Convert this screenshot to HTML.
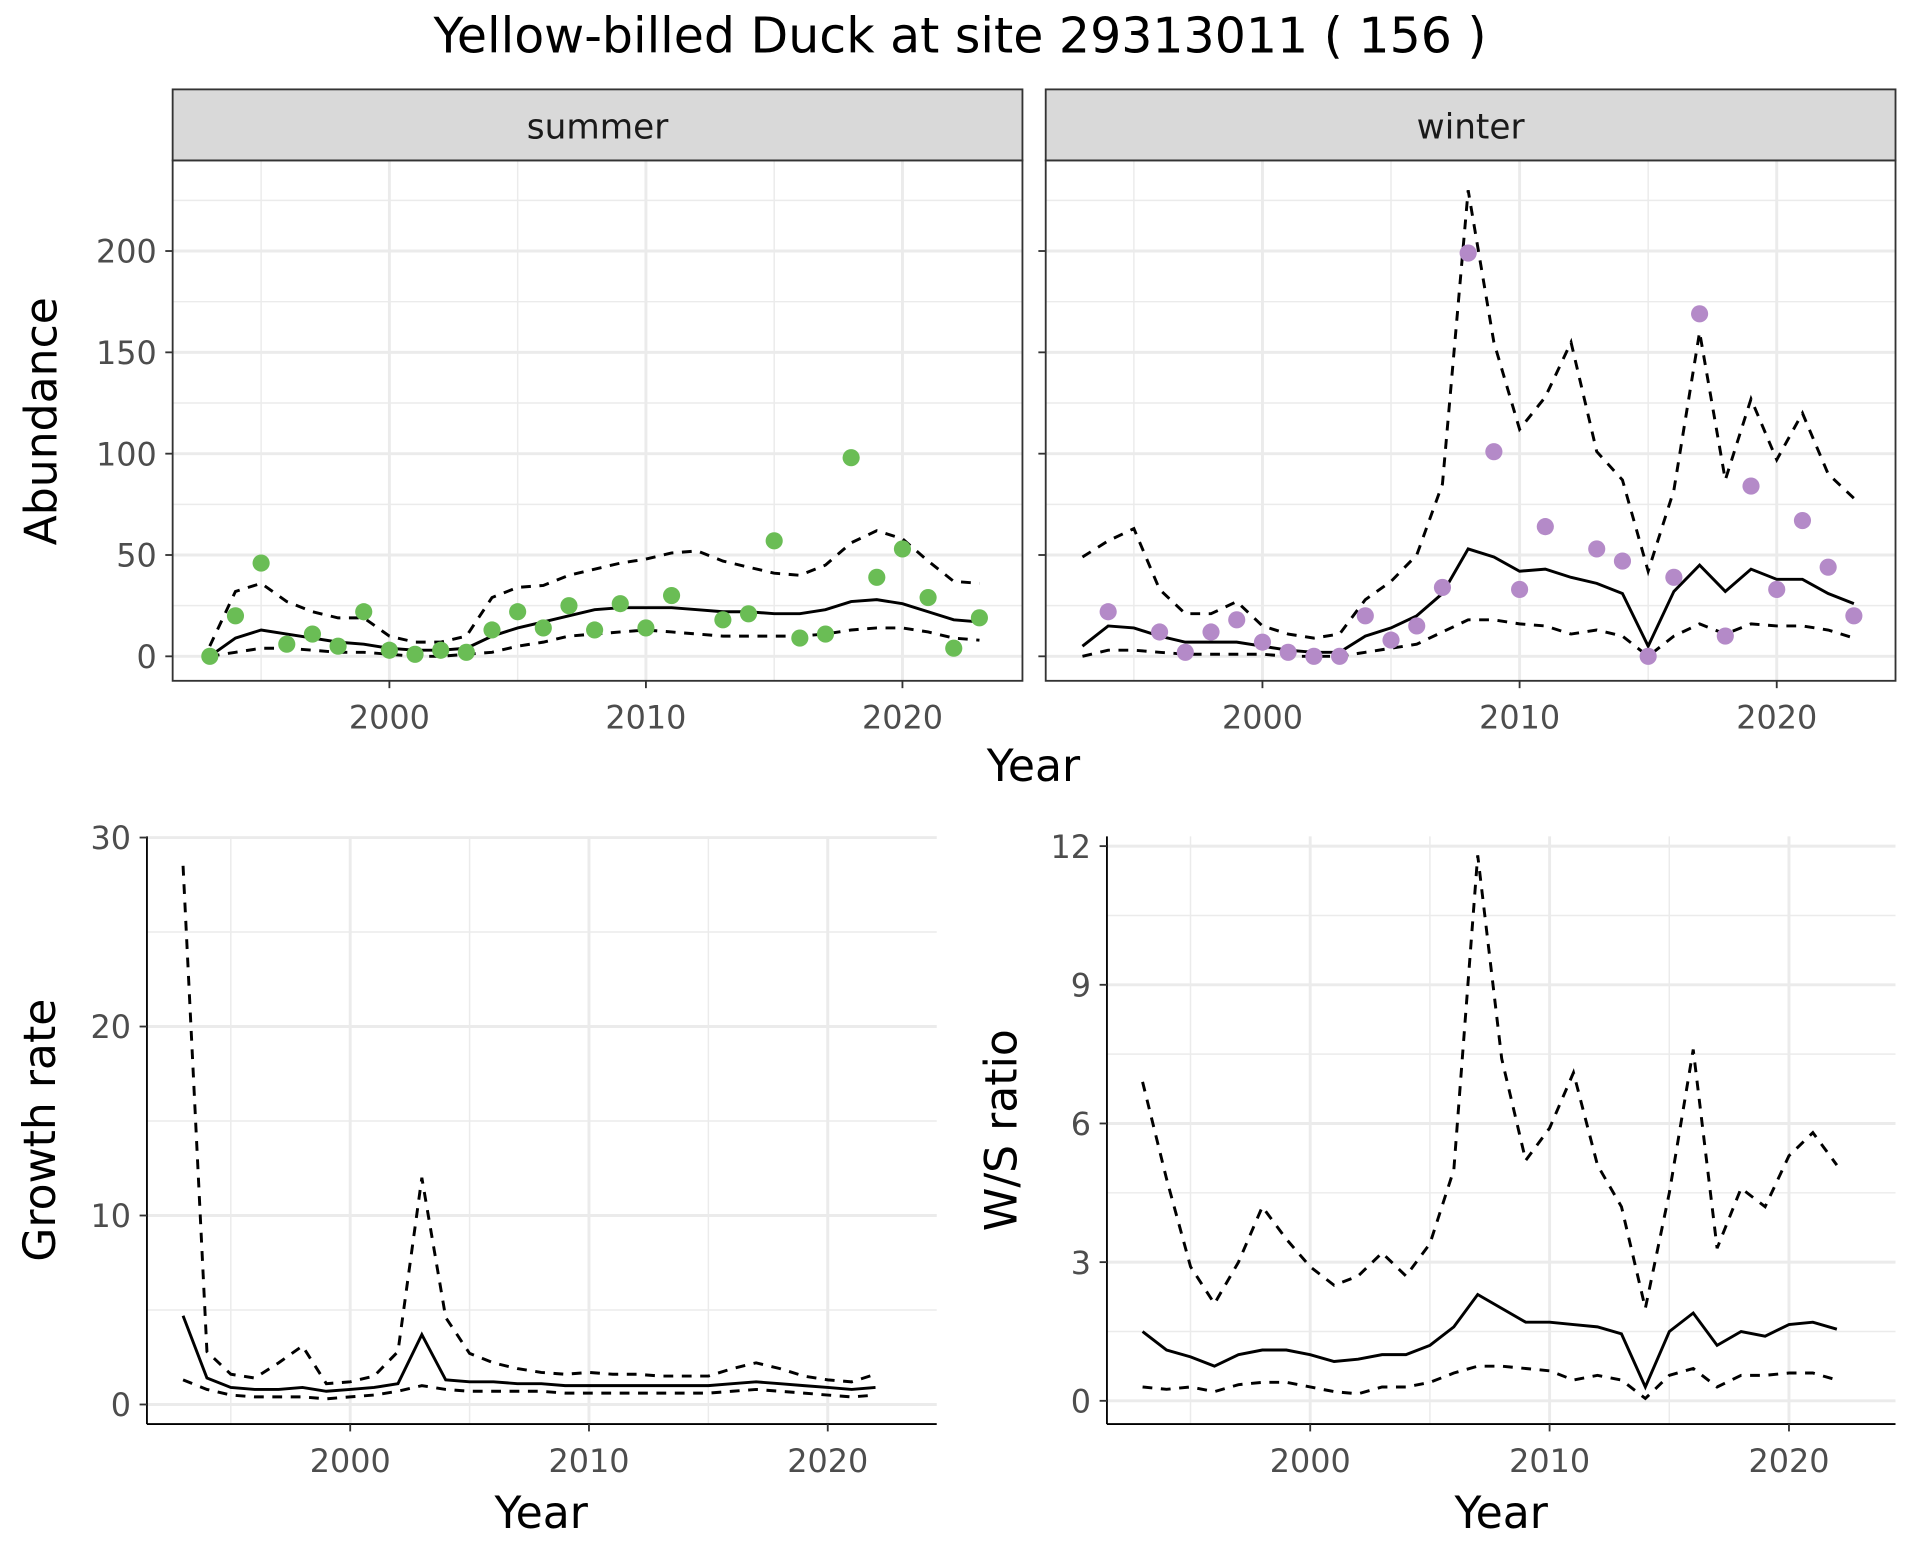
<!DOCTYPE html>
<html><head><meta charset="utf-8">
<style>
html,body{margin:0;padding:0;background:#fff;}
svg{display:block;font-family:"DejaVu Sans","Liberation Sans",sans-serif;}
</style></head>
<body>
<svg id="chart" width="1920" height="1560" viewBox="0 0 1568 1274" xmlns="http://www.w3.org/2000/svg">
<rect width="1568" height="1274" fill="#fff"/>
<text x="784" y="43" font-size="40" text-anchor="middle" fill="#000">Yellow-billed Duck at site 29313011 ( 156 )</text>
</svg>
<script>
const years93_23 = [1993,1994,1995,1996,1997,1998,1999,2000,2001,2002,2003,2004,2005,2006,2007,2008,2009,2010,2011,2012,2013,2014,2015,2016,2017,2018,2019,2020,2021,2022,2023];
const years93_22 = years93_23.slice(0,30);
const summerObsYears = [1993,1994,1995,1996,1997,1998,1999,2000,2001,2002,2003,2004,2005,2006,2007,2008,2009,2010,2011,2013,2014,2015,2016,2017,2018,2019,2020,2021,2022,2023];
const summerObs = [0,20,46,6,11,5,22,3,1,3,2,13,22,14,25,13,26,14,30,18,21,57,9,11,98,39,53,29,4,19];
const summerMean = [0,9,13,11,9,7,6,4,3,3,4,10,14,17,20,23,24,24,24,23,22,22,21,21,23,27,28,26,22,18,17];
const summerUpper = [5,32,36,27,22,19,19,10,7,7,10,29,34,35,40,43,46,48,51,52,47,44,41,40,45,56,62,58,47,37,36];
const summerLower = [0,2,4,4,3,2,2,1,0,0,1,2,5,7,10,11,12,13,12,11,10,10,10,10,11,13,14,14,12,9,8];
const winterObsYears = [1994,1996,1997,1998,1999,2000,2001,2002,2003,2004,2005,2006,2007,2008,2009,2010,2011,2013,2014,2015,2016,2017,2018,2019,2020,2021,2022,2023];
const winterObs = [22,12,2,12,18,7,2,0,0,20,8,15,34,199,101,33,64,53,47,0,39,169,10,84,33,67,44,20];
const winterMean = [5,15,14,10,7,7,7,5,3,2,2,10,14,20,31,53,49,42,43,39,36,31,5,32,45,32,43,38,38,31,26];
const winterUpper = [49,57,63,33,21,21,27,15,11,9,11,28,37,50,85,230,155,112,128,155,101,87,42,82,160,87,127,97,120,90,78];
const winterLower = [0,3,3,2,1,1,1,1,0,0,0,2,4,6,12,18,18,16,15,11,13,10,0,10,16,11,16,15,15,13,9];
const growthMean = [4.7,1.4,0.9,0.8,0.8,0.9,0.7,0.8,0.9,1.1,3.7,1.3,1.2,1.2,1.1,1.1,1.0,1.0,1.0,1.0,1.0,1.0,1.0,1.1,1.2,1.1,1.0,0.9,0.8,0.9];
const growthUpper = [28.5,2.8,1.6,1.4,2.2,3.1,1.1,1.2,1.5,2.8,12,4.6,2.7,2.2,1.9,1.7,1.6,1.7,1.6,1.6,1.5,1.5,1.5,1.9,2.2,1.9,1.5,1.3,1.2,1.6];
const growthLower = [1.3,0.8,0.5,0.4,0.4,0.4,0.3,0.4,0.5,0.7,1.0,0.8,0.7,0.7,0.7,0.7,0.6,0.6,0.6,0.6,0.6,0.6,0.6,0.7,0.8,0.7,0.6,0.5,0.4,0.5];
const ratioMean = [1.5,1.1,0.95,0.75,1.0,1.1,1.1,1.0,0.85,0.9,1.0,1.0,1.2,1.6,2.3,2.0,1.7,1.7,1.65,1.6,1.45,0.3,1.5,1.9,1.2,1.5,1.4,1.65,1.7,1.55];
const ratioUpper = [6.9,4.8,2.9,2.1,3.0,4.2,3.5,2.9,2.5,2.7,3.2,2.7,3.4,5.0,11.8,7.4,5.2,5.9,7.1,5.1,4.2,2.0,4.5,7.6,3.3,4.6,4.2,5.3,5.8,5.1];
const ratioLower = [0.3,0.25,0.3,0.2,0.35,0.4,0.4,0.3,0.2,0.15,0.3,0.3,0.4,0.6,0.75,0.75,0.7,0.65,0.45,0.55,0.45,0.05,0.55,0.7,0.3,0.55,0.55,0.6,0.6,0.45];
const xTicks = [2000,2010,2020];
const xMinor = [1995,2005,2015];
const abundTicks = [0,50,100,150,200];
const abundMinor = [25,75,125,175,225];
const growthTicks = [0,10,20,30];
const growthMinor = [5,15,25];
const ratioTicks = [0,3,6,9,12];
const ratioMinor = [1.5,4.5,7.5,10.5];

const svg = document.getElementById('chart');
const NS = 'http://www.w3.org/2000/svg';
function el(tag, attrs, parent){
  const e = document.createElementNS(NS, tag);
  for (const k in attrs) e.setAttribute(k, attrs[k]);
  (parent||svg).appendChild(e);
  return e;
}
function linScale(d0,d1,r0,r1){return v=>r0+(v-d0)*(r1-r0)/(d1-d0);}

function panel(o){
  const g = el('g',{});
  
  
  const X = linScale(2000,2020,o.x2000,o.x2020);
  const Y = linScale(o.yv0,o.yv1,o.yp0,o.yp1);
  const {l,t,r,b} = o.box;
  const grid = el('g',{},g);
  
  
  o.xMinor.forEach(v=>el('line',{x1:X(v),x2:X(v),y1:t,y2:b,stroke:'#ebebeb','stroke-width':1.2},grid));
  o.yMinor.forEach(v=>{const y=Y(v); if(y>t&&y<b) el('line',{x1:l,x2:r,y1:y,y2:y,stroke:'#ebebeb','stroke-width':1.2},grid);});
  o.xTicks.forEach(v=>el('line',{x1:X(v),x2:X(v),y1:t,y2:b,stroke:'#ebebeb','stroke-width':2.4},grid));
  o.yTicks.forEach(v=>el('line',{x1:l,x2:r,y1:Y(v),y2:Y(v),stroke:'#ebebeb','stroke-width':2.4},grid));
  function line(xs,ys,dash,nm){
    const p = el('path',{d:xs.map((x,i)=>(i?'L':'M')+X(x).toFixed(1)+','+Y(ys[i]).toFixed(1)).join(''),fill:'none',stroke:'#000','stroke-width':2.4,'stroke-dasharray':dash?'8,7':'none'},g);
    
    
  }
  line(o.years,o.upper,true,o.name+'-upper-line');
  line(o.years,o.lower,true,o.name+'-lower-line');
  line(o.years,o.mean,false,o.name+'-mean-line');
  if(o.obs){
    o.obsYears.forEach((yr,i)=>{
      const c = el('circle',{cx:X(yr),cy:Y(o.obs[i]),r:7,fill:o.color},g);
      
      
    });
  }
  if(o.frame){
    el('rect',{x:l,y:t,width:r-l,height:b-t,fill:'none',stroke:'#333','stroke-width':1.5},g);
  } else {
    el('line',{x1:l,x2:l,y1:t,y2:b,stroke:'#000','stroke-width':1.5},g);
    el('line',{x1:l,x2:r,y1:b,y2:b,stroke:'#000','stroke-width':1.5},g);
  }
  if(o.showX){
    o.xTicks.forEach(v=>{
      el('line',{x1:X(v),x2:X(v),y1:b,y2:b+6,stroke:'#333','stroke-width':1.5},g);
      const tx = el('text',{x:X(v),y:b+39,'font-size':26,fill:'#4d4d4d','text-anchor':'middle'},g);
      tx.textContent = v;
      
      
    });
  }
  if(o.showY){
    o.yTicks.forEach(v=>{
      el('line',{x1:l-6,x2:l,y1:Y(v),y2:Y(v),stroke:'#333','stroke-width':1.5},g);
      const tx = el('text',{x:l-13,y:Y(v)+9.5,'font-size':26,fill:'#4d4d4d','text-anchor':'end'},g);
      tx.textContent = v;
      
      
    });
  } else {
    o.yTicks.forEach(v=>el('line',{x1:l-6,x2:l,y1:Y(v),y2:Y(v),stroke:'#333','stroke-width':1.5},g));
  }
  if(o.strip){
    el('rect',{x:l,y:73,width:r-l,height:t-73,fill:'#d9d9d9',stroke:'#333','stroke-width':1.5},g);
    const s = el('text',{x:(l+r)/2,y:113,'font-size':28,fill:'#1a1a1a','text-anchor':'middle'},g);
    s.textContent = o.strip;
    
    
  }
}

panel({name:'summer-panel',box:{l:141,t:131,r:835,b:556},x2000:318,x2020:737,yv0:0,yv1:200,yp0:536,yp1:205,
  xTicks,xMinor,yTicks:abundTicks,yMinor:abundMinor,years:years93_23,mean:summerMean,upper:summerUpper,lower:summerLower,
  obs:summerObs,obsYears:summerObsYears,color:'#6abd55',frame:true,showX:true,showY:true,strip:'summer'});
panel({name:'winter-panel',box:{l:854,t:131,r:1548,b:556},x2000:1031,x2020:1451,yv0:0,yv1:200,yp0:536,yp1:205,
  xTicks,xMinor,yTicks:abundTicks,yMinor:abundMinor,years:years93_23,mean:winterMean,upper:winterUpper,lower:winterLower,
  obs:winterObs,obsYears:winterObsYears,color:'#b48ac8',frame:true,showX:true,showY:false,strip:'winter'});
panel({name:'growth-panel',box:{l:120,t:683,r:765,b:1163},x2000:286,x2020:676,yv0:0,yv1:30,yp0:1147,yp1:684,
  xTicks,xMinor,yTicks:growthTicks,yMinor:growthMinor,years:years93_22,mean:growthMean,upper:growthUpper,lower:growthLower,
  frame:false,showX:true,showY:true});
panel({name:'ratio-panel',box:{l:904,t:683,r:1548,b:1163},x2000:1070,x2020:1461,yv0:0,yv1:12,yp0:1144,yp1:691,
  xTicks,xMinor,yTicks:ratioTicks,yMinor:ratioMinor,years:years93_22,mean:ratioMean,upper:ratioUpper,lower:ratioLower,
  frame:false,showX:true,showY:true});

function label(txt,x,y,rot,nm){
  const t = el('text',{x:x,y:y,'font-size':36,fill:'#000','text-anchor':'middle',transform:rot?`rotate(-90 ${x} ${y})`:''});
  t.textContent = txt;
  
  
}
label('Year',844,638,false,'top-x-axis-title');
label('Abundance',46,344,true,'abundance-y-axis-title');
label('Year',442,1248,false,'growth-x-axis-title');
label('Growth rate',45,923,true,'growth-y-axis-title');
label('Year',1226,1248,false,'ratio-x-axis-title');
label('W/S ratio',830,923,true,'ratio-y-axis-title');
</script>
</body></html>
